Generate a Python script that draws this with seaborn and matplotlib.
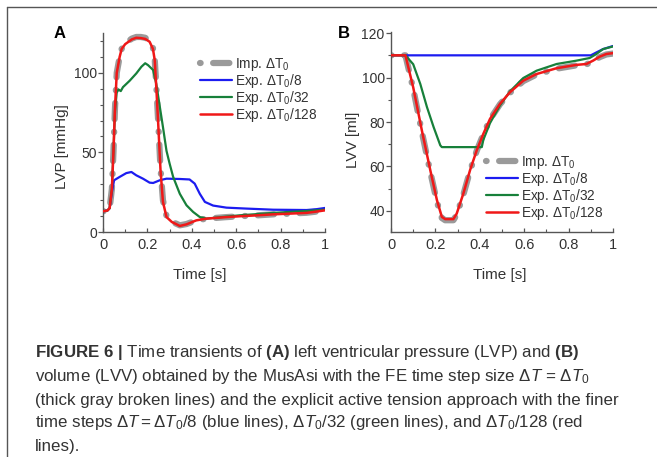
import matplotlib
matplotlib.use("Agg")
import matplotlib.pyplot as plt
import seaborn as sns
from matplotlib.lines import Line2D

# ---------------- data ----------------
# Panel A: LVP [mmHg]
tA_imp = [0, 0.02, 0.03, 0.04, 0.047, 0.054, 0.062, 0.075, 0.084, 0.1, 0.13, 0.15, 0.17, 0.19, 0.21,
          0.225, 0.233, 0.24, 0.248, 0.259, 0.27, 0.286, 0.31, 0.346, 0.376, 0.42, 0.466, 0.55,
          0.617, 0.7, 0.767, 0.85, 0.917, 0.96, 1.0]
vA_imp = [13, 13.5, 15, 27, 50, 78, 100, 110, 115, 118.5, 121.5, 122.5, 122.5, 122, 120,
          115.5, 108.5, 92, 71, 40, 20, 10, 6.5, 4.2, 5, 7.3, 8.4, 9.3,
          9.9, 10.5, 11.1, 11.6, 12.1, 12.8, 13.6]
tA_128 = [0, 0.02, 0.03, 0.04, 0.047, 0.054, 0.062, 0.075, 0.084, 0.1, 0.13, 0.15, 0.17, 0.19, 0.21,
          0.225, 0.233, 0.24, 0.248, 0.259, 0.27, 0.286, 0.31, 0.346, 0.376, 0.42, 0.466, 0.55,
          0.617, 0.7, 0.767, 0.85, 0.917, 0.96, 1.0]
vA_128 = [13, 13.5, 15, 27, 50, 78, 100, 110, 115, 118, 121, 122, 121.8, 121.3, 119.5,
          115, 108, 91, 70, 39, 19, 9.4, 6.3, 3.8, 4.8, 7.3, 8.4, 9.3,
          9.9, 10.5, 11.1, 11.6, 12, 12.8, 13.6]
tA_32 = [0, 0.02, 0.03, 0.04, 0.047, 0.054, 0.062, 0.07, 0.08, 0.09, 0.12, 0.15, 0.173, 0.19, 0.203,
         0.226, 0.24, 0.256, 0.27, 0.286, 0.30, 0.316, 0.346, 0.376, 0.406, 0.436, 0.466, 0.55,
         0.617, 0.7, 0.767, 0.85, 0.917, 1.0]
vA_32 = [13, 13.5, 15, 27, 50, 76, 88, 89.5, 88.5, 91, 95, 99.6, 103.8, 106, 104.8,
         101.7, 93, 78.6, 66, 51, 43, 34.6, 24, 16.8, 12.6, 9.4, 8.4, 9.6,
         10.5, 11.3, 12, 12.7, 13.2, 14]
tA_8 = [0, 0.02, 0.03, 0.04, 0.05, 0.075, 0.105, 0.128, 0.15, 0.18, 0.21, 0.226, 0.256, 0.286,
        0.346, 0.39, 0.413, 0.436, 0.459, 0.496, 0.556, 0.647, 0.767, 0.917, 0.96, 1.0]
vA_8 = [13, 13.5, 15, 25, 32.5, 34.6, 37, 37.7, 35.6, 33.5, 31, 30.8, 32.5, 33.5,
        33.3, 33, 30.4, 24, 18.9, 16.6, 15.3, 14.7, 14, 13.8, 14.3, 15.1]

# Panel B: LVV [ml]
tB_imp = [0, 0.065, 0.1, 0.139, 0.177, 0.207, 0.229, 0.244, 0.281, 0.296, 0.326, 0.356, 0.386,
          0.416, 0.446, 0.491, 0.536, 0.596, 0.656, 0.746, 0.835, 0.88, 0.91, 0.94, 0.97, 1.0]
vB_imp = [110, 110, 95, 75.5, 57.5, 44, 36.8, 35.8, 35.8, 38.3, 47.3, 58, 67,
          74.5, 81.2, 88, 93.2, 98.4, 101.4, 104, 105.5, 105.9, 107.4, 109.2, 110.4, 110.8]
tB_128 = [0, 0.065, 0.1, 0.139, 0.177, 0.207, 0.229, 0.244, 0.281, 0.296, 0.326, 0.356, 0.386,
          0.416, 0.446, 0.491, 0.536, 0.596, 0.656, 0.746, 0.835, 0.88, 0.91, 0.94, 0.97, 1.0]
vB_128 = [110, 110, 95.6, 76.2, 58.3, 44.8, 37.3, 36.3, 36.3, 38.8, 47.8, 58.3, 67.2,
          74.7, 81.4, 88.2, 93.4, 98.6, 101.6, 104.2, 105.7, 106.1, 107.6, 109.4, 110.6, 111]
tB_32 = [0, 0.065, 0.1, 0.132, 0.162, 0.192, 0.222, 0.229, 0.409, 0.416, 0.446, 0.491, 0.536,
         0.596, 0.656, 0.746, 0.835, 0.895, 0.925, 0.955, 1.0]
vB_32 = [110, 110, 106, 97.1, 86.7, 77.7, 69.5, 68.7, 68.7, 72, 79.5, 87.5, 93.8,
         99.8, 103.1, 106.1, 107.6, 108.8, 110.6, 112.8, 114]
tB_8 = [0, 0.9, 0.925, 0.955, 1.0]
vB_8 = [110, 110, 111.3, 112.8, 114.2]

labels = ["Imp. ΔT$_0$", "Exp. ΔT$_0$/8", "Exp. ΔT$_0$/32", "Exp. ΔT$_0$/128"]
xticks = [0, 0.2, 0.4, 0.6, 0.8, 1]
xticklabels = ["0", "0.2", "0.4", "0.6", "0.8", "1"]
yticksA = [0, 50, 100]
yticksB = [40, 60, 80, 100, 120]

caption_lines = [
    r"$\mathbf{FIGURE\ 6\ |}$ Time transients of $\mathbf{(A)}$ left ventricular pressure (LVP) and $\mathbf{(B)}$",
    r"volume (LVV) obtained by the MusAsi with the FE time step size $\Delta T$ = $\Delta T_0$",
    r"(thick gray broken lines) and the explicit active tension approach with the finer",
    r"time steps $\Delta T = \Delta T_0/8$ (blue lines), $\Delta T_0/32$ (green lines), and $\Delta T_0/128$ (red",
    r"lines).",
]

# ---------------- style ----------------
sns.set_theme(style="ticks")
plt.rcParams["font.family"] = ["Liberation Sans", "DejaVu Sans"]
plt.rcParams["mathtext.fontset"] = "custom"
plt.rcParams["mathtext.rm"] = "Liberation Sans"
plt.rcParams["mathtext.it"] = "Liberation Sans:italic"
plt.rcParams["mathtext.bf"] = "Liberation Sans:bold"

GRAY = "#9a9a9a"
BLUE = "#1c1cf0"
GREEN = "#17803a"
RED = "#f01818"
TXT = "#333333"
SPINE = "#555555"
DASH = (0, (0.1, 2.0, 2.6, 2.0))

fig = plt.figure(figsize=(6.57, 4.57), dpi=100)
W, H = 657, 457
axA = fig.add_axes([103 / W, 1 - 232 / H, 222 / W, 199 / H])
axB = fig.add_axes([391 / W, 1 - 232 / H, 222 / W, 200 / H])


def draw(ax, series):
    for (t, v, c, lw, ls, z) in series:
        sns.lineplot(x=t, y=v, ax=ax, color=c, linewidth=lw, linestyle=ls, sort=False,
                     estimator=None, zorder=z, legend=False, dash_capstyle="round")


draw(axA, [
    (tA_imp, vA_imp, GRAY, 4.5, DASH, 2),
    (tA_8, vA_8, BLUE, 1.6, "-", 3),
    (tA_32, vA_32, GREEN, 1.6, "-", 3),
    (tA_128, vA_128, RED, 1.8, "-", 4),
])
draw(axB, [
    (tB_imp, vB_imp, GRAY, 4.5, DASH, 2),
    (tB_8, vB_8, BLUE, 1.6, "-", 3),
    (tB_32, vB_32, GREEN, 1.6, "-", 3),
    (tB_128, vB_128, RED, 1.8, "-", 4),
])

handles = [
    Line2D([], [], color=GRAY, lw=4.5, linestyle=DASH, dash_capstyle="round"),
    Line2D([], [], color=BLUE, lw=1.6),
    Line2D([], [], color=GREEN, lw=1.6),
    Line2D([], [], color=RED, lw=1.8),
]

for ax, yt, ylim, ylab in [(axA, yticksA, (0, 125), "LVP [mmHg]"),
                           (axB, yticksB, (30.5, 120.5), "LVV [ml]")]:
    ax.set_xlim(0, 1)
    ax.set_ylim(*ylim)
    ax.set_xticks(xticks)
    ax.set_xticklabels(xticklabels)
    ax.set_xticks([0.1, 0.3, 0.5, 0.7, 0.9], minor=True)
    ax.set_yticks(yt)
    ax.set_yticklabels([str(v) for v in yt])
    for s in ["top", "right"]:
        ax.spines[s].set_visible(False)
    for s in ["left", "bottom"]:
        ax.spines[s].set_color(SPINE)
        ax.spines[s].set_linewidth(1.0)
    ax.tick_params(axis="x", which="major", direction="in", length=3, width=0.9,
                   color=SPINE, labelsize=10.5, labelcolor=TXT, pad=4)
    ax.tick_params(axis="x", which="minor", direction="in", length=2.2, width=0.8, color=SPINE)
    ax.tick_params(axis="y", which="major", direction="out", length=3.5, width=0.9,
                   color=SPINE, labelsize=10, labelcolor=TXT, pad=1)
    ax.tick_params(axis="y", which="minor", direction="out", length=2.2, width=0.8, color=SPINE)
    ax.set_xlabel("Time [s]", fontsize=11, color=TXT, va="center")
    ax.set_ylabel(ylab, fontsize=11, color=TXT, va="center")

axA.set_yticks([10, 20, 30, 40, 60, 70, 80, 90, 110, 120], minor=True)
axB.set_yticks([50, 70, 90, 110], minor=True)

axA.xaxis.set_label_coords((200 - 103) / 222, (232 - 275) / 199)
axB.xaxis.set_label_coords((500 - 391) / 222, (232 - 275) / 200)
axA.yaxis.set_label_coords((62 - 103) / 222, (232 - 147) / 199)
axB.yaxis.set_label_coords((353 - 391) / 222, (232 - 140) / 200)

legkw = dict(frameon=False, fontsize=9.8, handlelength=2.35, handletextpad=0.25,
             labelspacing=-0.08, borderpad=0, borderaxespad=0, loc="upper left",
             bbox_transform=fig.transFigure, labelcolor=TXT)
axA.legend(handles, labels, bbox_to_anchor=(200 / W, 1 - 56 / H), **legkw)
axB.legend(handles, labels, bbox_to_anchor=(486 / W, 1 - 154 / H), **legkw)

fig.text(60 / W, 1 - 34 / H, "A", fontsize=12, fontweight="bold", color="black",
         ha="center", va="center")
fig.text(344 / W, 1 - 33 / H, "B", fontsize=12, fontweight="bold", color="black",
         ha="center", va="center")

ys = [353, 377, 400, 423, 446]
for y, line in zip(ys, caption_lines):
    fig.text(35 / W, 1 - y / H, line, fontsize=12.2, color=TXT, ha="left", va="center")

# frame lines of the figure panel (top and left)
fig.add_artist(Line2D([7 / W, 1], [1 - 7 / H, 1 - 7 / H], transform=fig.transFigure,
                      color="#555555", lw=1))
fig.add_artist(Line2D([7 / W, 7 / W], [0, 1 - 7 / H], transform=fig.transFigure,
                      color="#555555", lw=1))

fig.savefig("out.png", dpi=100)
